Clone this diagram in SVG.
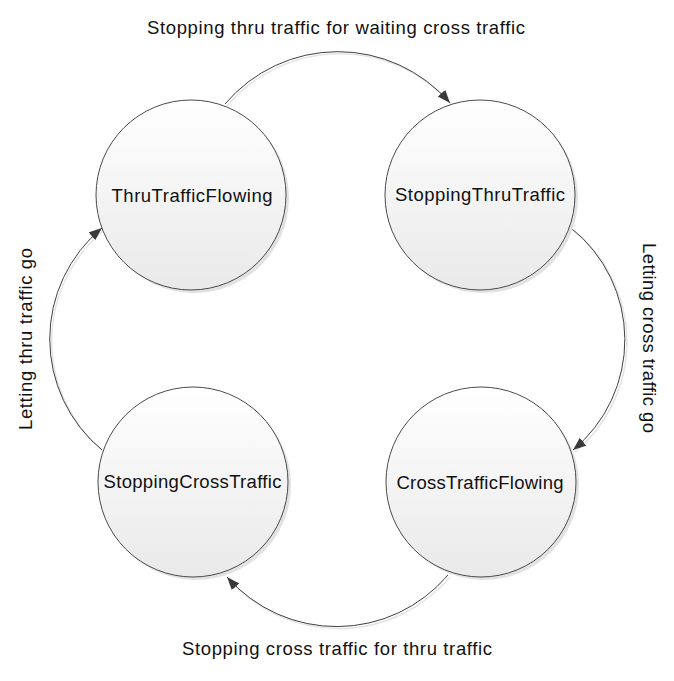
<svg xmlns="http://www.w3.org/2000/svg" width="674" height="681" viewBox="0 0 674 681">
<defs>
<linearGradient id="g" x1="0" y1="0" x2="0" y2="1">
<stop offset="0" stop-color="#ffffff"/>
<stop offset="1" stop-color="#e9e9e9"/>
</linearGradient>
<marker id="arr" markerUnits="userSpaceOnUse" markerWidth="14" markerHeight="12" refX="13" refY="5" orient="auto">
<path d="M0,0 L13,5 L0,10 Z" fill="#3a3a3a"/>
</marker>
</defs>
<style>
.shadow{fill:#e2e2e2;stroke:none}
.node{fill:url(#g);stroke:#4a4a4a;stroke-width:1}
.lbl{font-family:"Liberation Sans",Arial,sans-serif;font-size:18.5px;fill:#111;text-anchor:middle}
.edge{fill:none;stroke:#404040;stroke-width:1}
.eshadow{fill:none;stroke:#e4e4e4;stroke-width:1.5}
</style>
<g id="connectors">
<path class="eshadow" d="M227,106 A148,148 0 0 1 452,105"/>
<path class="eshadow" d="M573,230 A143,143 0 0 1 575,452"/>
<path class="eshadow" d="M450,577 A146,146 0 0 1 229,579"/>
<path class="eshadow" d="M104,452 A144,144 0 0 1 104,230"/>
<path class="edge" d="M225,104 A148,148 0 0 1 450,103" marker-end="url(#arr)"/>
<path class="edge" d="M571,228 A143,143 0 0 1 573,450" marker-end="url(#arr)"/>
<path class="edge" d="M448,575 A146,146 0 0 1 227,577" marker-end="url(#arr)"/>
<path class="edge" d="M102,450 A144,144 0 0 1 102,228" marker-end="url(#arr)"/>
<text class="lbl" x="336" y="34" textLength="378">Stopping thru traffic for waiting cross traffic</text>
<text class="lbl" transform="translate(643,338) rotate(90)" x="0" y="0" textLength="190">Letting cross traffic go</text>
<text class="lbl" x="337" y="655" textLength="310">Stopping cross traffic for thru traffic</text>
<text class="lbl" transform="translate(32,339) rotate(-90)" x="0" y="0" textLength="182">Letting thru traffic go</text>
</g>
<g id="ThruTrafficFlowing">
<circle class="shadow" cx="194" cy="198" r="95"/>
<circle class="node" cx="191" cy="195" r="95"/>
<text class="lbl" x="192" y="202" textLength="161">ThruTrafficFlowing</text>
</g>
<g id="StoppingThruTraffic">
<circle class="shadow" cx="483" cy="198" r="95"/>
<circle class="node" cx="480" cy="195" r="95"/>
<text class="lbl" x="480" y="201" textLength="170">StoppingThruTraffic</text>
</g>
<g id="StoppingCrossTraffic">
<circle class="shadow" cx="196" cy="485" r="95"/>
<circle class="node" cx="193" cy="482" r="95"/>
<text class="lbl" x="192.5" y="488" textLength="178">StoppingCrossTraffic</text>
</g>
<g id="CrossTrafficFlowing">
<circle class="shadow" cx="484" cy="485" r="95"/>
<circle class="node" cx="481" cy="482" r="95"/>
<text class="lbl" x="480" y="489" textLength="167">CrossTrafficFlowing</text>
</g>
</svg>
